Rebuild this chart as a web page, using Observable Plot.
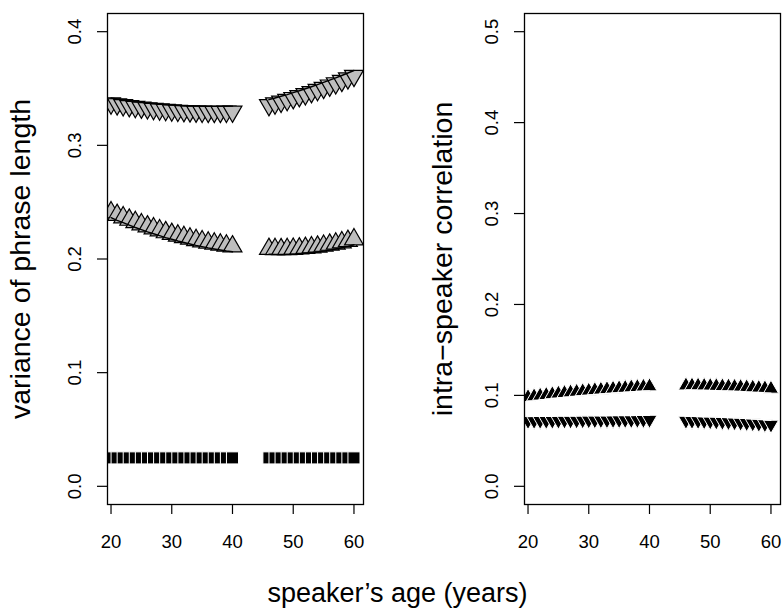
<!DOCTYPE html>
<html><head><meta charset="utf-8">
<script src="https://cdn.jsdelivr.net/npm/d3@7"></script>
<script src="https://cdn.jsdelivr.net/npm/@observablehq/plot@0.6"></script>
<style>
html,body{margin:0;padding:0;background:#fff;}
#chart{position:relative;width:782px;height:609px;overflow:hidden;background:#fff;font-family:"Liberation Sans",Arial,Helvetica,sans-serif;}
#chart > svg{position:absolute;top:0;}
#chart text.tick-num{font-size:18.5px !important;}
</style></head><body><div id="chart"></div>
<script>
// ---- data ----
const agesA = [20,21,22,23,24,25,26,27,28,29,30,31,32,33,34,35,36,37,38,39,40];
const agesB = [46,47,48,49,50,51,52,53,54,55,56,57,58,59,60];
const xTicks = [20,30,40,50,60];

// left panel: variance of phrase length
const varDownA = [0.3370,0.3362,0.3354,0.3346,0.3339,0.3333,0.3327,0.3321,0.3317,0.3312,0.3308,0.3305,0.3302,0.3300,0.3298,0.3297,0.3296,0.3296,0.3296,0.3297,0.3298];
const varDownB = [0.3355,0.3370,0.3385,0.3400,0.3417,0.3434,0.3451,0.3469,0.3488,0.3507,0.3527,0.3547,0.3568,0.3590,0.3612];
const varUpA = [0.2410,0.2387,0.2366,0.2345,0.2324,0.2305,0.2286,0.2269,0.2252,0.2235,0.2220,0.2205,0.2192,0.2179,0.2166,0.2155,0.2144,0.2135,0.2126,0.2117,0.2110];
const varUpB = [0.2088,0.2087,0.2086,0.2087,0.2089,0.2092,0.2097,0.2102,0.2108,0.2116,0.2125,0.2135,0.2146,0.2158,0.2172];
const varSqA = [0.025,0.025,0.025,0.025,0.025,0.025,0.025,0.025,0.025,0.025,0.025,0.025,0.025,0.025,0.025,0.025,0.025,0.025,0.025,0.025,0.025];
const varSqB = [0.025,0.025,0.025,0.025,0.025,0.025,0.025,0.025,0.025,0.025,0.025,0.025,0.025,0.025,0.025];
const varTicks = [0,0.1,0.2,0.3,0.4];

// right panel: intra-speaker correlation
const corUpA = [0.0980,0.0988,0.0996,0.1003,0.1011,0.1018,0.1025,0.1031,0.1038,0.1044,0.1050,0.1056,0.1061,0.1067,0.1072,0.1077,0.1081,0.1086,0.1090,0.1094,0.1098];
const corUpB = [0.1108,0.1107,0.1106,0.1104,0.1102,0.1100,0.1098,0.1096,0.1093,0.1090,0.1087,0.1084,0.1080,0.1076,0.1072];
const corDownA = [0.0720,0.0721,0.0722,0.0722,0.0723,0.0724,0.0725,0.0725,0.0726,0.0727,0.0727,0.0728,0.0729,0.0729,0.0730,0.0730,0.0731,0.0731,0.0732,0.0732,0.0733];
const corDownB = [0.0722,0.0721,0.0720,0.0718,0.0716,0.0714,0.0711,0.0708,0.0705,0.0702,0.0698,0.0694,0.0690,0.0685,0.0679];
const corTicks = [0,0.1,0.2,0.3,0.4,0.5];

const yTitleLeft = "variance of phrase length";
const yTitleRight = "intra\u2212speaker correlation";
const xTitle = "speaker\u2019s age (years)";

// ---- helpers ----
function rows(vA, vB) {
  return agesA.map((a, i) => ({age: a, value: vA[i], seg: "A"}))
    .concat(agesB.map((a, i) => ({age: a, value: vB[i], seg: "B"})));
}
const triDown = {
  draw(ctx, size) {
    const y = Math.sqrt(size / (Math.sqrt(3) * 3));
    const x = Math.sqrt(3) * y;
    ctx.moveTo(0, 2 * y);
    ctx.lineTo(x, -y);
    ctx.lineTo(-x, -y);
    ctx.closePath();
  }
};
const xDomain = [19.42, 61.57];
const fontFamily = "'Liberation Sans', Arial, Helvetica, sans-serif";
const tickFont = 18.5;

function panel({width, marginLeft, marginRight, yDomain, yTicks, yTitle, titleDx, marks}) {
  const svg = Plot.plot({
    width, height: 560,
    marginLeft, marginRight, marginTop: 13, marginBottom: 56,
    x: {domain: xDomain},
    y: {domain: yDomain},
    style: {fontFamily, fontSize: tickFont + "px", color: "black", background: "white", overflow: "visible"},
    marks: [
      Plot.axisX({ticks: xTicks, tickSize: 10, tickPadding: 20, tickFormat: d => String(d), label: null, strokeWidth: 1.2, fontSize: tickFont}),
      Plot.axisY({ticks: yTicks, tickSize: 10, tickPadding: 17, tickRotate: -90, tickFormat: d3.format(".1f"), label: null, strokeWidth: 1.2, fontSize: tickFont}),
      ...marks,
      Plot.frame({stroke: "black", strokeWidth: 1.3}),
      Plot.text([yTitle], {text: d => d, frameAnchor: "left", rotate: -90, dx: titleDx, textAnchor: "middle", lineAnchor: "bottom", fontSize: 28.5, fill: "black"})
    ]
  });
  svg.querySelectorAll("text").forEach(el => {
    if (/^[0-9.\u2212-]+$/.test(el.textContent.trim())) {
      el.classList.add("tick-num");
      el.style.setProperty("font-size", tickFont + "px", "important");
    }
  });
  return svg;
}

const chart = document.getElementById("chart");

const leftDown = rows(varDownA, varDownB);
const leftUp = rows(varUpA, varUpB);
const leftSq = rows(varSqA, varSqB);

const left = panel({
  width: 400, marginLeft: 107, marginRight: 37,
  yDomain: [-0.016, 0.416], yTicks: varTicks, yTitle: yTitleLeft, titleDx: -78,
  marks: [
    Plot.dot(leftDown, {x: "age", y: "value", symbol: triDown, r: 7, fill: "#bebebe", stroke: "black", strokeWidth: 1.2, clip: true}),
    Plot.line(leftDown, {x: "age", y: "value", z: "seg", dy: -5.3, stroke: "black", strokeWidth: 1.4, clip: true}),
    Plot.dot(leftUp, {x: "age", y: "value", symbol: "triangle", r: 7, fill: "#bebebe", stroke: "black", strokeWidth: 1.2, clip: true}),
    Plot.line(leftUp, {x: "age", y: "value", z: "seg", dy: 5.3, stroke: "black", strokeWidth: 1.4, clip: true}),
    Plot.dot(leftSq, {x: "age", y: "value", symbol: "square", r: 6.8, fill: "black", stroke: "white", strokeWidth: 1, clip: true})
  ]
});
left.style.left = "0px";
chart.appendChild(left);

const rightUp = rows(corUpA, corUpB);
const rightDown = rows(corDownA, corDownB);

const right = panel({
  width: 382, marginLeft: 124, marginRight: 2,
  yDomain: [-0.02, 0.52], yTicks: corTicks, yTitle: yTitleRight, titleDx: -72.3,
  marks: [
    Plot.dot(rightUp, {x: "age", y: "value", symbol: "triangle", r: 5.6, fill: "black", stroke: "white", strokeWidth: 1, clip: true}),
    Plot.line(rightUp, {x: "age", y: "value", z: "seg", dy: 4.3, stroke: "white", strokeWidth: 1.3, clip: true}),
    Plot.dot(rightDown, {x: "age", y: "value", symbol: triDown, r: 5.6, fill: "black", stroke: "white", strokeWidth: 1, clip: true}),
    Plot.line(rightDown, {x: "age", y: "value", z: "seg", dy: -4.3, stroke: "white", strokeWidth: 1.3, clip: true})
  ]
});
right.style.left = "400px";
chart.appendChild(right);

// shared x-axis title below both panels
const t = d3.select(chart).append("svg")
  .attr("width", 782).attr("height", 609)
  .style("left", "0px").style("pointer-events", "none");
t.append("text")
  .attr("x", 397.5).attr("y", 601.7)
  .attr("text-anchor", "middle")
  .attr("font-family", fontFamily)
  .attr("font-size", 27)
  .attr("fill", "black")
  .text(xTitle);
</script>
</body></html>
